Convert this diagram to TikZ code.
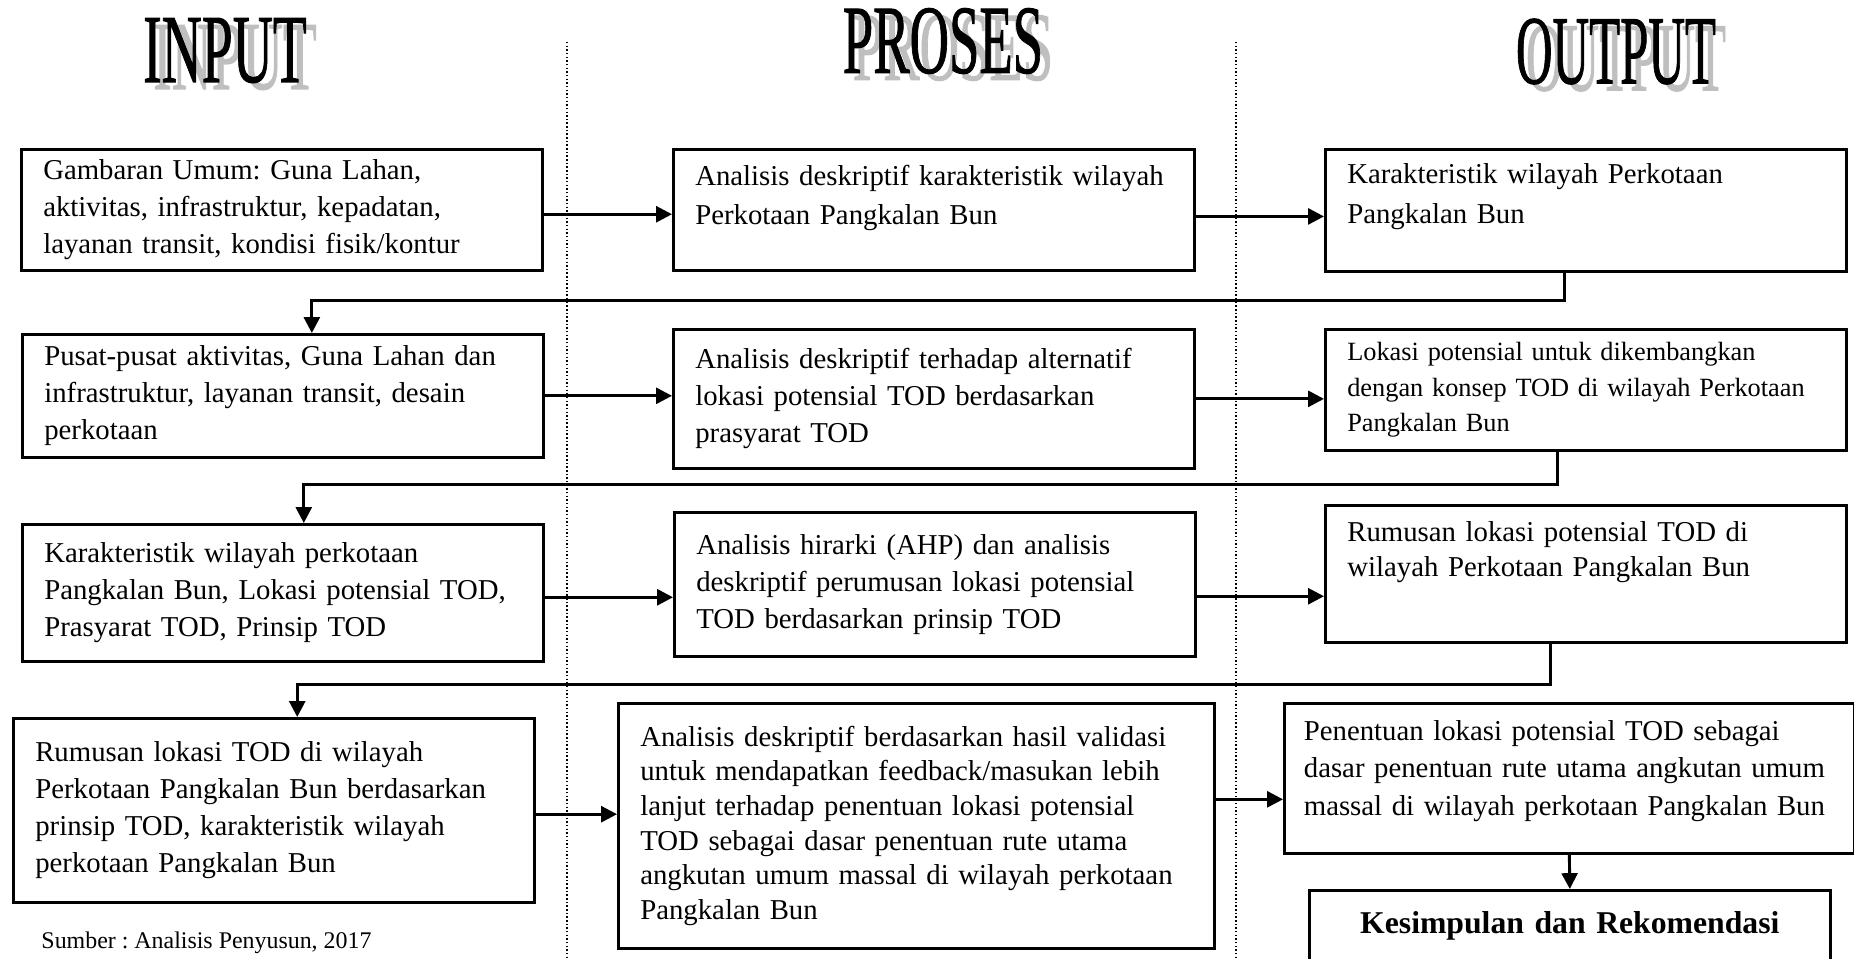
\documentclass[tikz,border=0pt]{standalone}
\usepackage{graphicx}
\usepackage{fontspec}
\setmainfont{Liberation Serif}
\newfontfamily\hurufjudul{Liberation Serif}[FakeBold=1.2]
\usetikzlibrary{arrows.meta}

\begin{document}
\frenchspacing
\begin{tikzpicture}[x=0.41pt, y=-0.41pt,
  kotak/.style={draw, line width=1.1pt, anchor=north west, align=left,
    inner xsep=9pt, inner ysep=3pt, text width=195.6pt, minimum width=213.6pt,
    font=\fontsize{11.8}{15.2}\selectfont},
  panah/.style={line width=1.2pt, -{Triangle[length=6.5pt,width=6.5pt]}},
  pemisah/.style={line width=0.6pt, dash pattern=on 0.6pt off 0.9pt},
  judul/.style={font=\hurufjudul\fontsize{40}{40}\selectfont, inner sep=0pt},
  bayang/.style={judul, text=black!25}]
  \useasboundingbox (0,0) rectangle (1854,958);

  \node[bayang] (bayanginput) at (235,57.5) {\scalebox{0.57}[1]{INPUT}};
  \node[judul] (input) at (225,50.5) {\scalebox{0.57}[1]{INPUT}};
  \node[bayang] (bayangproses) at (953,48) {\scalebox{0.56}[1]{PROSES}};
  \node[judul] (proses) at (943,41) {\scalebox{0.56}[1]{PROSES}};
  \node[bayang] (bayangoutput) at (1626,58.5) {\scalebox{0.52}[1]{OUTPUT}};
  \node[judul] (output) at (1616,51.5) {\scalebox{0.52}[1]{OUTPUT}};

  \draw[pemisah] (567,42) -- (567,958);
  \draw[pemisah] (1236,42) -- (1236,958);

  \node[kotak, minimum height=49.6pt] (i1) at (20,148) {Gambaran Umum: Guna Lahan,\\ aktivitas, infrastruktur, kepadatan,\\ layanan transit, kondisi fisik/kontur};
  \node[kotak, minimum height=50.4pt] (i2) at (21,333) {Pusat-pusat aktivitas, Guna Lahan dan\\ infrastruktur, layanan transit, desain\\ perkotaan};
  \node[kotak, minimum height=56.2pt] (i3) at (21,523) {Karakteristik wilayah perkotaan\\ Pangkalan Bun, Lokasi potensial TOD,\\ Prasyarat TOD, Prinsip TOD};
  \node[kotak, minimum height=75.4pt] (i4) at (12,717) {Rumusan lokasi TOD di wilayah\\ Perkotaan Pangkalan Bun berdasarkan\\ prinsip TOD, karakteristik wilayah\\ perkotaan Pangkalan Bun};

  \node[kotak, inner ysep=4.8pt, text height=10pt, text depth=30pt,
    font=\fontsize{11.8}{16}\selectfont] (p1) at (672,148) {Analisis deskriptif karakteristik wilayah\\ Perkotaan Pangkalan Bun};
  \node[kotak, minimum height=57pt] (p2) at (672,328) {Analisis deskriptif terhadap alternatif\\ lokasi potensial TOD berdasarkan\\ prasyarat TOD};
  \node[kotak, minimum height=59pt] (p3) at (673,511) {Analisis hirarki (AHP) dan analisis\\ deskriptif perumusan lokasi potensial\\ TOD berdasarkan prinsip TOD};
  \node[kotak, minimum height=100.5pt, text width=226.4pt, minimum width=244.4pt,
    font=\fontsize{11.8}{14.2}\selectfont] (p4) at (617,702) {Analisis deskriptif berdasarkan hasil validasi\\ untuk mendapatkan feedback/masukan lebih\\ lanjut terhadap penentuan lokasi potensial\\ TOD sebagai dasar penentuan rute utama\\ angkutan umum massal di wilayah perkotaan\\ Pangkalan Bun};

  \node[kotak, inner ysep=3.9pt, text height=10pt, text depth=32.2pt,
    font=\fontsize{11.8}{16.4}\selectfont] (o1) at (1324,148) {Karakteristik wilayah Perkotaan\\ Pangkalan Bun};
  \node[kotak, minimum height=49.6pt, font=\fontsize{10.8}{14.5}\selectfont] (o2) at (1324,328) {Lokasi potensial untuk dikembangkan\\ dengan konsep TOD di wilayah Perkotaan\\ Pangkalan Bun};
  \node[kotak, inner ysep=4.8pt, text height=10pt, text depth=36.6pt,
    font=\fontsize{11.8}{14.5}\selectfont] (o3) at (1324,504) {Rumusan lokasi potensial TOD di\\ wilayah Perkotaan Pangkalan Bun};
  \node[kotak, inner ysep=5.2pt, text height=10pt, text depth=41.1pt, inner xsep=8pt,
    text width=217.7pt, minimum width=233.7pt, font=\fontsize{11.8}{15.4}\selectfont] (o4) at (1283,702) {Penentuan lokasi potensial TOD sebagai\\ dasar penentuan rute utama angkutan umum\\ massal di wilayah perkotaan Pangkalan Bun};
  \node[kotak, align=center, font=\bfseries\fontsize{13}{15}\selectfont,
    text height=13pt, text depth=40pt, inner ysep=4.5pt] (kesimpulan) at (1308,889) {Kesimpulan dan Rekomendasi};

  \node[anchor=west, inner sep=0pt, font=\fontsize{9.8}{12}\selectfont] (sumber) at (41,943) {Sumber : Analisis Penyusun, 2017};

  \draw[panah] ([yshift=-1.8pt]i1.east) -- ([yshift=-1.8pt]i1.east -| p1.west);
  \draw[panah] ([yshift=-2.7pt]p1.east) -- ([yshift=-2.7pt]p1.east -| o1.west);
  \draw[panah] (i2.east) -- (i2.east -| p2.west);
  \draw[panah] (p2.east) -- (p2.east -| o2.west);
  \draw[panah] ([yshift=-1.8pt]i3.east) -- ([yshift=-1.8pt]i3.east -| p3.west);
  \draw[panah] ([yshift=-4.9pt]p3.east) -- ([yshift=-4.9pt]p3.east -| o3.west);
  \draw[panah] ([yshift=-1.6pt]i4.east) -- ([yshift=-1.6pt]i4.east -| p4.west);
  \draw[panah] ([yshift=10.9pt]p4.east) -- ([yshift=10.9pt]p4.east -| o4.west);
  \draw[panah] (o4.south) -- (kesimpulan.north);

  \draw[panah] ([xshift=-8.6pt]o1.south) -- ++(0,28) -| ([xshift=11.9pt]i2.north);
  \draw[panah] ([xshift=-11.7pt]o2.south) -- ++(0,33) -| ([xshift=8.6pt]i3.north);
  \draw[panah] ([xshift=-14.4pt]o3.south) -- ++(0,41) -| ([xshift=9.6pt]i4.north);
\end{tikzpicture}
\end{document}
